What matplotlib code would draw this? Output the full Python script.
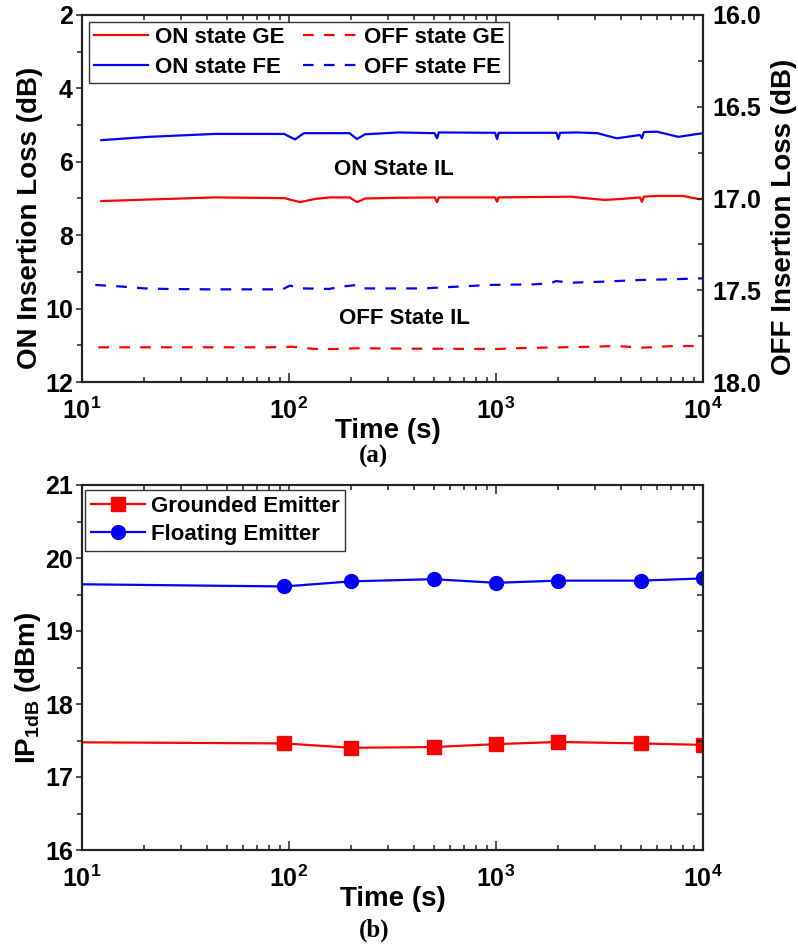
import math
import matplotlib
matplotlib.use("Agg")
import matplotlib.pyplot as plt
from matplotlib.ticker import LogLocator, MultipleLocator, FuncFormatter, NullFormatter, FormatStrFormatter

# ---------------- data ----------------
# (a) insertion loss vs time
on_ge_t = [12.4, 44, 95, 113, 134, 158, 196, 213, 233, 340, 505, 519, 530, 990, 1012, 1030,
           2290, 3330, 4090, 4960, 5070, 5180, 6000, 8000, 9600, 10000]
on_ge = [7.07, 6.97, 6.99, 7.10, 7.01, 6.97, 6.97, 7.10, 7.00, 6.98, 6.97, 7.10, 6.97, 6.97, 7.09, 6.97,
         6.95, 7.04, 7.01, 6.97, 7.09, 6.95, 6.93, 6.93, 7.02, 7.00]

on_fe_t = [12.4, 21, 44, 94.6, 107, 118, 196, 213, 233, 340, 505, 519, 530, 990, 1012, 1030,
           1960, 2000, 2040, 2450, 3090, 3830, 4960, 5070, 5180, 6000, 7600, 10000]
on_fe = [5.41, 5.32, 5.24, 5.24, 5.39, 5.22, 5.22, 5.38, 5.25, 5.20, 5.22, 5.36, 5.20, 5.21, 5.38, 5.21,
         5.21, 5.38, 5.21, 5.20, 5.22, 5.36, 5.27, 5.36, 5.19, 5.18, 5.32, 5.22]

off_ge_t = [12, 40, 80, 103, 134, 167, 218, 340, 1000, 1350, 2830, 3830, 5100, 7160, 10000]
off_ge = [17.811, 17.811, 17.811, 17.808, 17.820, 17.820, 17.816, 17.818, 17.820, 17.815,
          17.808, 17.804, 17.813, 17.804, 17.804]

off_fe_t = [11.6, 15.6, 20, 26, 40, 80, 93, 101, 118, 156, 180, 213, 230, 340, 445, 745, 930,
            1510, 1830, 1950, 2290, 3330, 4960, 7160, 10000]
off_fe = [17.471, 17.480, 17.490, 17.493, 17.495, 17.495, 17.495, 17.475, 17.490, 17.493, 17.480,
          17.471, 17.490, 17.490, 17.490, 17.477, 17.471, 17.468, 17.462, 17.450, 17.459, 17.453,
          17.444, 17.440, 17.435]

# (b) input-referred 1 dB compression point vs time
ip_t = [10, 95, 200, 500, 1000, 2000, 5000, 10000]
ip_ge = [17.475, 17.46, 17.40, 17.41, 17.45, 17.48, 17.46, 17.44]
ip_fe = [19.64, 19.61, 19.68, 19.71, 19.66, 19.69, 19.69, 19.72]

# ---------------- style ----------------
plt.rcParams["font.family"] = ["Liberation Sans", "DejaVu Sans"]
plt.rcParams["font.weight"] = "bold"
plt.rcParams["axes.labelweight"] = "bold"
plt.rcParams["mathtext.fontset"] = "custom"
plt.rcParams["mathtext.rm"] = "Liberation Sans:bold"
plt.rcParams["mathtext.bf"] = "Liberation Sans:bold"
plt.rcParams["mathtext.it"] = "Liberation Sans:bold"

RED = "#ff0000"
BLUE = "#0000ff"
SPINE = "#222222"
TICK_FS = 18
LABEL_FS = 20
LEG_FS = 16
LW = 1.6
DASH = (0, (4.8, 4.6))

W, H = 798, 949
fig = plt.figure(figsize=(W / 100, H / 100), dpi=100)


def frac(x0, y0, x1, y1):
    return [x0 / W, 1 - y1 / H, (x1 - x0) / W, (y1 - y0) / H]


def pow_fmt(v, pos):
    k = int(round(math.log10(v)))
    return r"$\mathbf{10^{%d}}$" % k


def style_x(ax):
    ax.set_xscale("log")
    ax.set_xlim(10, 1e4)
    ax.xaxis.set_major_locator(LogLocator(base=10, numticks=10))
    ax.xaxis.set_minor_locator(LogLocator(base=10, subs=range(2, 10), numticks=20))
    ax.xaxis.set_major_formatter(FuncFormatter(pow_fmt))
    ax.xaxis.set_minor_formatter(NullFormatter())
    ax.tick_params(axis="x", which="both", direction="in", top=True, bottom=True,
                   labelsize=TICK_FS, pad=11, color=SPINE, width=1.1)
    ax.tick_params(axis="x", which="major", length=6.5)
    ax.tick_params(axis="x", which="minor", length=3.5)


def style_spines(ax):
    for s in ax.spines.values():
        s.set_linewidth(1.5)
        s.set_color(SPINE)


# ---------------- (a) ----------------
ax1 = fig.add_axes(frac(82, 15, 703, 382))
ax2 = ax1.twinx()

ax1.plot(on_ge_t, on_ge, color=RED, lw=LW, label="ON state GE")
ax1.plot(on_fe_t, on_fe, color=BLUE, lw=LW, label="ON state FE")
ax2.plot(off_ge_t, off_ge, color=RED, lw=LW, ls=DASH, label="OFF state GE")
ax2.plot(off_fe_t, off_fe, color=BLUE, lw=LW, ls=DASH, label="OFF state FE")

style_x(ax1)
ax1.set_ylim(12, 2)
ax1.yaxis.set_major_locator(MultipleLocator(2))
ax1.yaxis.set_minor_locator(MultipleLocator(1))
ax1.tick_params(axis="y", which="both", direction="out", labelsize=TICK_FS, pad=2,
                color=SPINE, width=1.1)
ax1.tick_params(axis="y", which="major", length=4.5)
ax1.tick_params(axis="y", which="minor", length=3.5)

ax2.set_ylim(18, 16)
ax2.yaxis.set_major_locator(MultipleLocator(0.5))
ax2.yaxis.set_minor_locator(MultipleLocator(0.25))
ax2.yaxis.set_major_formatter(FormatStrFormatter("%.1f"))
ax2.tick_params(axis="y", which="both", direction="in", labelsize=TICK_FS, pad=7,
                color=SPINE, width=1.1)
ax2.tick_params(axis="y", which="major", length=4.5)
ax2.tick_params(axis="y", which="minor", length=3.5)

style_spines(ax1)
style_spines(ax2)

ax1.set_xlabel("Time (s)", fontsize=LABEL_FS)
ax1.xaxis.set_label_coords(0.492, -0.098)
ax1.set_ylabel("ON Insertion Loss (dB)", fontsize=LABEL_FS)
ax1.yaxis.set_label_coords(-0.062, 0.447)
ax2.set_ylabel("OFF Insertion Loss (dB)", fontsize=LABEL_FS)
ax2.yaxis.set_label_coords(1.11, 0.45)

ax1.text(321, 6.22, "ON State IL", fontsize=LEG_FS, ha="center", va="center")
ax1.text(363, 10.26, "OFF State IL", fontsize=LEG_FS, ha="center", va="center")

h1, l1 = ax1.get_legend_handles_labels()
h2, l2 = ax2.get_legend_handles_labels()
leg = ax2.legend(h1 + h2, l1 + l2, ncol=2, loc="upper left",
                 bbox_to_anchor=(0.0113, 0.981), borderaxespad=0, fontsize=LEG_FS,
                 handlelength=2.45, handletextpad=0.28, columnspacing=0.85,
                 borderpad=0.22, labelspacing=0.4, fancybox=False, framealpha=1,
                 edgecolor="#333333")
leg.get_frame().set_linewidth(1.0)

# ---------------- (b) ----------------
ax3 = fig.add_axes(frac(82, 485, 703, 850))
ax4 = ax3.twinx()

ax3.plot(ip_t, ip_ge, color=RED, lw=LW, marker="s", ms=9.5, markevery=slice(1, None),
         label="Grounded Emitter")
ax3.plot(ip_t, ip_fe, color=BLUE, lw=LW, marker="o", ms=10, markevery=slice(1, None),
         label="Floating Emitter")

style_x(ax3)
ax3.set_ylim(16, 21)
ax3.yaxis.set_major_locator(MultipleLocator(1))
ax3.yaxis.set_minor_locator(MultipleLocator(0.5))
ax3.tick_params(axis="y", which="both", direction="out", labelsize=TICK_FS, pad=2,
                color=SPINE, width=1.1)
ax3.tick_params(axis="y", which="major", length=4.5)
ax3.tick_params(axis="y", which="minor", length=3.5)

ax4.set_ylim(16, 21)
ax4.yaxis.set_major_locator(MultipleLocator(0.5))
ax4.yaxis.set_minor_locator(MultipleLocator(0.5))
ax4.tick_params(axis="y", which="both", direction="in", labelright=False, length=4,
                color=SPINE, width=1.1)

style_spines(ax3)
style_spines(ax4)

ax3.set_xlabel("Time (s)", fontsize=LABEL_FS)
ax3.xaxis.set_label_coords(0.5, -0.1)
ax3.set_ylabel(r"IP$_{\mathbf{1dB}}$ (dBm)", fontsize=LABEL_FS)
ax3.yaxis.set_label_coords(-0.063, 0.444)

leg2 = ax3.legend(loc="upper left", bbox_to_anchor=(0.005, 0.986), borderaxespad=0,
                  fontsize=LEG_FS, handlelength=2.45, handletextpad=0.25,
                  borderpad=0.25, labelspacing=0.33, fancybox=False, framealpha=1,
                  edgecolor="#333333")
leg2.get_frame().set_linewidth(1.0)

# panel tags
fig.text(374 / W, 1 - 456 / H, "(a)", fontsize=18, fontweight="bold",
         family=["Liberation Serif", "DejaVu Serif"], ha="center", va="center")
fig.text(374 / W, 1 - 930 / H, "(b)", fontsize=18, fontweight="bold",
         family=["Liberation Serif", "DejaVu Serif"], ha="center", va="center")

fig.savefig("out.png", dpi=100)
